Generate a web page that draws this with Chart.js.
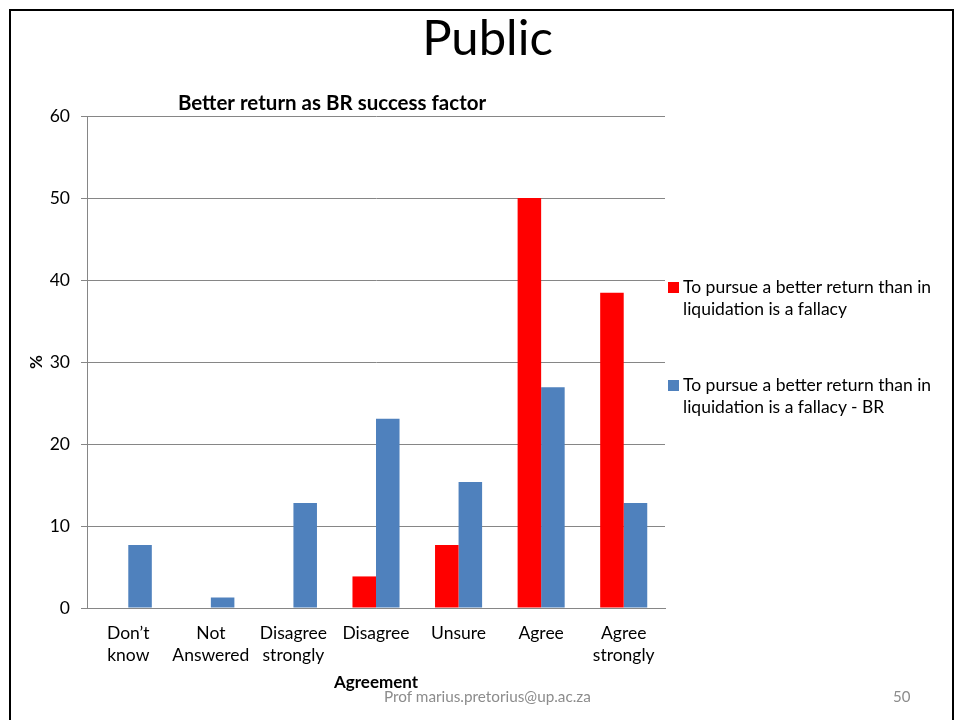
<!DOCTYPE html>
<html>
<head>
<meta charset="utf-8">
<script src="https://cdn.jsdelivr.net/npm/chart.js@4.4.1/dist/chart.umd.min.js"></script>
<style>
  body { margin: 0; width: 955px; height: 720px; overflow: hidden; background: #fff; font-family: Lato, "Open Sans", sans-serif; }
  #frame { position: absolute; left: 9px; top: 9px; width: 941px; height: 720px; border: 2px solid #000; border-bottom: none; }
  #slide-title { position: absolute; left: 0; width: 975px; top: 7px; text-align: center; font-size: 49px; color: #000; }
  #chart { position: absolute; left: 0; top: 0; }
  #legend { position: absolute; left: 668px; top: 276px; font-size: 17.5px; line-height: 22px; color: #000; }
  .legend-item { position: relative; padding-left: 15px; width: 270px; margin-bottom: 54px; }
  .legend-box { position: absolute; left: 0; top: 6px; width: 11px; height: 11px; }
  #footer { position: absolute; left: 384px; top: 687px; font-size: 15.3px; color: #8c8c8c; }
  #page-num { position: absolute; left: 893px; top: 687px; font-size: 15px; color: #8c8c8c; }
</style>
</head>
<body>
<div id="frame"></div>
<div id="slide-title">Public</div>
<canvas id="chart" width="955" height="720"></canvas>
<div id="legend"></div>
<div id="footer">Prof marius.pretorius@up.ac.za</div>
<div id="page-num">50</div>
<script>
// Chart data
let categories = [["Don\u2019t", "know"], ["Not", "Answered"], ["Disagree", "strongly"], "Disagree", "Unsure", "Agree", ["Agree", "strongly"]];
let fallacyValues = [0, 0, 0, 3.85, 7.69, 50, 38.46];
let fallacyBRValues = [7.69, 1.28, 12.82, 23.08, 15.38, 26.92, 12.82];
let seriesNames = ["To pursue a better return than in liquidation is a fallacy",
                   "To pursue a better return than in liquidation is a fallacy - BR"];
let seriesColors = ["#FF0000", "#4F81BD"];

// Chart title drawn over the plot, offset left like the original
let titlePlugin = {
    id: 'chartTitle',
    afterDraw: function(chart) {
        let ctx = chart.ctx;
        ctx.save();
        ctx.font = 'bold 20.5px Lato, sans-serif';
        ctx.fillStyle = '#000';
        ctx.textAlign = 'center';
        ctx.textBaseline = 'middle';
        ctx.fillText('Better return as BR success factor', 332, 103);
        ctx.restore();
    }
};

let ctx = document.getElementById('chart').getContext('2d');

let chart = new Chart(ctx, {
    type: 'bar',
    data: {
        labels: categories,
        datasets: [{
            label: seriesNames[0],
            data: fallacyValues,
            backgroundColor: seriesColors[0]
        }, {
            label: seriesNames[1],
            data: fallacyBRValues,
            backgroundColor: seriesColors[1]
        }]
    },
    options: {
        responsive: false,
        animation: false,
        layout: { padding: { left: 20, top: 116, right: 290, bottom: 20 } },
        datasets: { bar: { categoryPercentage: 0.57, barPercentage: 1.0 } },
        plugins: {
            legend: { display: false },
            tooltip: { enabled: false }
        },
        scales: {
            x: {
                grid: { display: false, drawTicks: false },
                border: { color: '#868686' },
                ticks: {
                    color: '#000',
                    font: { family: 'Lato', size: 17.5, lineHeight: 1.27 },
                    padding: 14,
                    maxRotation: 0,
                    autoSkip: false
                },
                title: {
                    display: true,
                    text: 'Agreement',
                    color: '#000',
                    font: { family: 'Lato', size: 17, weight: 'bold' },
                    padding: { top: 0, bottom: 7 }
                },
                afterFit: function(scale) { scale.height = 92; }
            },
            y: {
                min: 0,
                max: 60,
                ticks: {
                    stepSize: 10,
                    color: '#000',
                    font: { family: 'Lato', size: 17.5 },
                    padding: 11
                },
                grid: { color: '#868686', tickLength: 6 },
                border: { color: '#868686' },
                title: {
                    display: true,
                    text: '%',
                    color: '#000',
                    font: { family: 'Lato', size: 17, weight: 'bold' },
                    padding: { top: 6, bottom: 0 }
                },
                afterFit: function(scale) { scale.width = 67; }
            }
        }
    },
    plugins: [titlePlugin]
});

// Build the legend from the chart datasets
let legend = document.getElementById('legend');
chart.data.datasets.forEach(function(ds) {
    let item = document.createElement('div');
    item.className = 'legend-item';
    let box = document.createElement('span');
    box.className = 'legend-box';
    box.style.background = ds.backgroundColor;
    item.appendChild(box);
    item.appendChild(document.createTextNode(ds.label));
    legend.appendChild(item);
});
</script>
</body>
</html>
